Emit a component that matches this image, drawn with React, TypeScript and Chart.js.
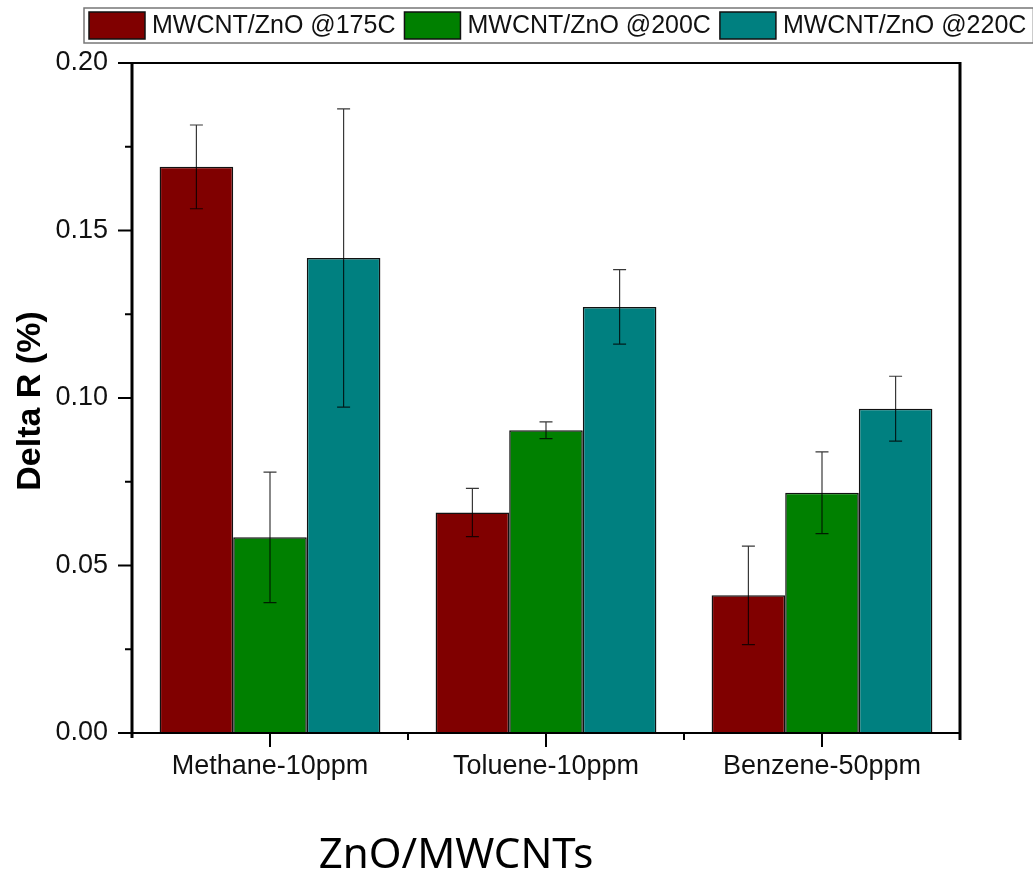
import React, { useEffect, useRef } from "react";
import { Chart, registerables } from "chart.js";

Chart.register(...registerables);

const categories = ["Methane-10ppm", "Toluene-10ppm", "Benzene-50ppm"];
const seriesLabels = ["MWCNT/ZnO @175C", "MWCNT/ZnO @200C", "MWCNT/ZnO @220C"];
const values175 = [0.169, 0.0658, 0.0411];
const values200 = [0.0584, 0.0904, 0.0717];
const values220 = [0.1418, 0.1272, 0.0968];
const errors175 = [0.0125, 0.0072, 0.0147];
const errors200 = [0.0195, 0.0025, 0.0122];
const errors220 = [0.0445, 0.0111, 0.0097];
const seriesColors = ["#800000", "#008000", "#008080"];
const yMajorTicks = [0, 0.05, 0.1, 0.15, 0.2];
const yMinorTicks = [0.025, 0.075, 0.125, 0.175];
const yTitle = "Delta R (%)";
const xTitle = "ZnO/MWCNTs";

const seriesValues = [values175, values200, values220];
const seriesErrors = [errors175, errors200, errors220];

const SANS = "'Liberation Sans', Arial, sans-serif";

const errorBarPlugin = {
  id: "errorBars",
  afterDatasetsDraw(chart: any) {
    const ctx = chart.ctx;
    const yScale = chart.scales.y;
    ctx.save();
    ctx.strokeStyle = "rgba(0,0,0,0.78)";
    ctx.lineWidth = 1.2;
    chart.data.datasets.forEach((ds: any, i: number) => {
      const meta = chart.getDatasetMeta(i);
      meta.data.forEach((bar: any, j: number) => {
        const v = ds.data[j];
        const e = ds.errors[j];
        const x = bar.x;
        const yTop = yScale.getPixelForValue(v + e);
        const yBot = yScale.getPixelForValue(v - e);
        const cap = 6.5;
        ctx.beginPath();
        ctx.moveTo(x, yTop);
        ctx.lineTo(x, yBot);
        ctx.moveTo(x - cap, yTop);
        ctx.lineTo(x + cap, yTop);
        ctx.moveTo(x - cap, yBot);
        ctx.lineTo(x + cap, yBot);
        ctx.stroke();
      });
    });
    ctx.restore();
  },
};

const framePlugin = {
  id: "frameAndExtras",
  afterDraw(chart: any) {
    const ctx = chart.ctx;
    const { left, right, top, bottom } = chart.chartArea;
    const yScale = chart.scales.y;
    const xScale = chart.scales.x;
    ctx.save();
    ctx.strokeStyle = "#000";
    // frame
    ctx.lineWidth = 2;
    ctx.beginPath();
    ctx.moveTo(left, top);
    ctx.lineTo(right, top);
    ctx.moveTo(left, bottom);
    ctx.lineTo(right, bottom);
    ctx.stroke();
    ctx.lineWidth = 3;
    ctx.beginPath();
    ctx.moveTo(left, top - 1);
    ctx.lineTo(left, bottom + 5);
    ctx.moveTo(right, top - 1);
    ctx.lineTo(right, bottom + 7);
    ctx.stroke();
    // y ticks
    ctx.lineWidth = 2;
    ctx.beginPath();
    yMajorTicks.forEach((v) => {
      const y = yScale.getPixelForValue(v);
      ctx.moveTo(left - 14, y);
      ctx.lineTo(left, y);
    });
    yMinorTicks.forEach((v) => {
      const y = yScale.getPixelForValue(v);
      ctx.moveTo(left - 7, y);
      ctx.lineTo(left, y);
    });
    // x ticks
    categories.forEach((_, i) => {
      const x = xScale.getPixelForValue(i);
      ctx.moveTo(x, bottom);
      ctx.lineTo(x, bottom + 14);
    });
    for (let i = 0; i < categories.length - 1; i++) {
      const x = (xScale.getPixelForValue(i) + xScale.getPixelForValue(i + 1)) / 2;
      ctx.moveTo(x, bottom);
      ctx.lineTo(x, bottom + 7);
    }
    ctx.stroke();

    // y title
    ctx.fillStyle = "#000";
    ctx.font = `bold 34px ${SANS}`;
    ctx.textAlign = "center";
    ctx.textBaseline = "middle";
    ctx.save();
    ctx.translate(31, (top + bottom) / 2 + 3);
    ctx.rotate(-Math.PI / 2);
    ctx.fillText(yTitle, 0, 0);
    ctx.restore();

    // x title
    ctx.font = `42px 'Noto Sans', 'Open Sans', sans-serif`;
    ctx.textAlign = "center";
    ctx.textBaseline = "alphabetic";
    ctx.fillText(xTitle, 456, 868);

    // legend
    ctx.font = `25px ${SANS}`;
    ctx.textAlign = "left";
    ctx.textBaseline = "middle";
    let x = 89;
    const boxW = 56;
    const boxH = 27;
    const boxY = 12;
    chart.data.datasets.forEach((ds: any) => {
      ctx.fillStyle = ds.backgroundColor;
      ctx.fillRect(x, boxY, boxW, boxH);
      ctx.strokeStyle = "#111";
      ctx.lineWidth = 1.5;
      ctx.strokeRect(x, boxY, boxW, boxH);
      ctx.fillStyle = "#111";
      const tx = x + boxW + 7;
      ctx.fillText(ds.label, tx, boxY + boxH / 2 + 1);
      x = tx + ctx.measureText(ds.label).width + 9;
    });
    ctx.strokeStyle = "#777";
    ctx.lineWidth = 1.5;
    ctx.strokeRect(84, 8, x - 84 - 2, 35);
    ctx.restore();
  },
};

export default function App() {
  const ref = useRef<HTMLCanvasElement | null>(null);
  useEffect(() => {
    if (!ref.current) return;
    const chart = new Chart(ref.current, {
      type: "bar",
      data: {
        labels: categories,
        datasets: seriesLabels.map((label, i) => ({
          label,
          data: seriesValues[i],
          errors: seriesErrors[i],
          backgroundColor: seriesColors[i],
          borderColor: "#111",
          borderWidth: 1.5,
          categoryPercentage: 0.8,
          barPercentage: 1.0,
        })) as any,
      },
      options: {
        animation: false,
        responsive: false,
        layout: { padding: { left: 0, right: 73, top: 63, bottom: 0 } },
        plugins: {
          legend: { display: false },
          tooltip: { enabled: false },
        },
        scales: {
          x: {
            grid: { display: false, drawTicks: false },
            border: { display: false },
            ticks: {
              color: "#111",
              font: { size: 27, family: SANS },
              padding: 17,
              maxRotation: 0,
            },
            afterFit: (scale: any) => {
              scale.height = 142;
            },
          },
          y: {
            min: 0,
            max: 0.2,
            grid: { display: false, drawTicks: false },
            border: { display: false },
            ticks: {
              stepSize: 0.05,
              color: "#111",
              font: { size: 27, family: SANS },
              padding: 24,
              callback: (v: any) => Number(v).toFixed(2),
            },
            afterFit: (scale: any) => {
              scale.width = 132;
            },
          },
        },
      },
      plugins: [errorBarPlugin, framePlugin],
    } as any);
    return () => chart.destroy();
  }, []);
  return (
    <div style={{ position: "absolute", left: 0, top: 0, width: 1033, height: 875, background: "#fff" }}>
      <canvas ref={ref} width={1033} height={875} />
    </div>
  );
}
